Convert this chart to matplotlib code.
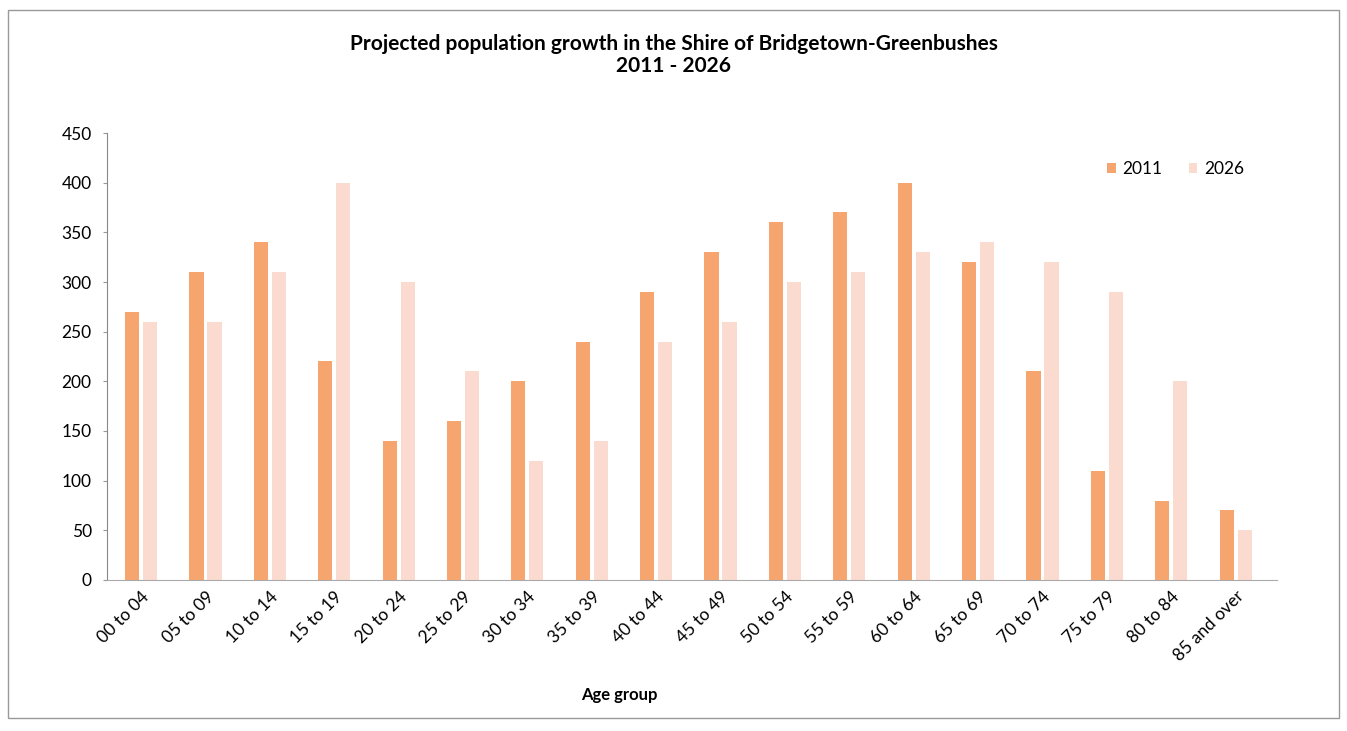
import matplotlib
matplotlib.use('Agg')
import matplotlib.pyplot as plt
from matplotlib.patches import Rectangle
import numpy as np

age_groups = ['00 to 04', '05 to 09', '10 to 14', '15 to 19', '20 to 24', '25 to 29',
              '30 to 34', '35 to 39', '40 to 44', '45 to 49', '50 to 54', '55 to 59',
              '60 to 64', '65 to 69', '70 to 74', '75 to 79', '80 to 84', '85 and over']
pop_2011 = [270, 310, 340, 220, 140, 160, 200, 240, 290, 330, 360, 370, 400, 320, 210, 110, 80, 70]
pop_2026 = [260, 260, 310, 400, 300, 210, 120, 140, 240, 260, 300, 310, 330, 340, 320, 290, 200, 50]
y_ticks = [0, 50, 100, 150, 200, 250, 300, 350, 400, 450]

plt.rcParams['font.family'] = ['Lato', 'DejaVu Sans']

fig = plt.figure(figsize=(13.47, 7.31), dpi=100)
ax = fig.add_axes([0.0794, 0.2066, 0.869, 0.6114])

x = np.arange(len(age_groups))
w = 0.22
ax.bar(x - 0.14, pop_2011, w, color='#F6A56E', label='2011')
ax.bar(x + 0.14, pop_2026, w, color='#FBDBD0', label='2026')

ax.set_xlim(-0.53, 17.65)
ax.set_ylim(0, 450)
ax.set_yticks(y_ticks)
ax.set_xticks(x)
ax.set_xticklabels(age_groups, rotation=45, ha='right', rotation_mode='anchor', fontsize=12.5)
ax.tick_params(axis='y', labelsize=12.5, length=3, color='#999999', pad=8)
ax.tick_params(axis='x', length=0, pad=6)

for s in ['top', 'right']:
    ax.spines[s].set_visible(False)
ax.spines['left'].set_color('#888888')
ax.spines['left'].set_linestyle((0, (4, 1)))
ax.spines['bottom'].set_color('#aaaaaa')
ax.spines['bottom'].set_linestyle((0, (4, 1)))

ax.legend(loc='center right', bbox_to_anchor=(0.985, 0.92), ncol=2, frameon=False,
          fontsize=12.5, handlelength=0.5, handleheight=0.5, columnspacing=1.5,
          handletextpad=0.4)

fig.text(0.5, 0.925, 'Projected population growth in the Shire of Bridgetown-Greenbushes\n2011 - 2026',
         ha='center', va='center', fontsize=15, fontweight='bold', linespacing=1.1)
fig.text(0.46, 0.049, 'Age group', ha='center', va='center', fontsize=12, fontweight='bold')

fig.patches.append(Rectangle((0.006, 0.018), 0.988, 0.968, transform=fig.transFigure,
                             fill=False, edgecolor='#999999', linewidth=1))

fig.savefig('out.png', dpi=100)
